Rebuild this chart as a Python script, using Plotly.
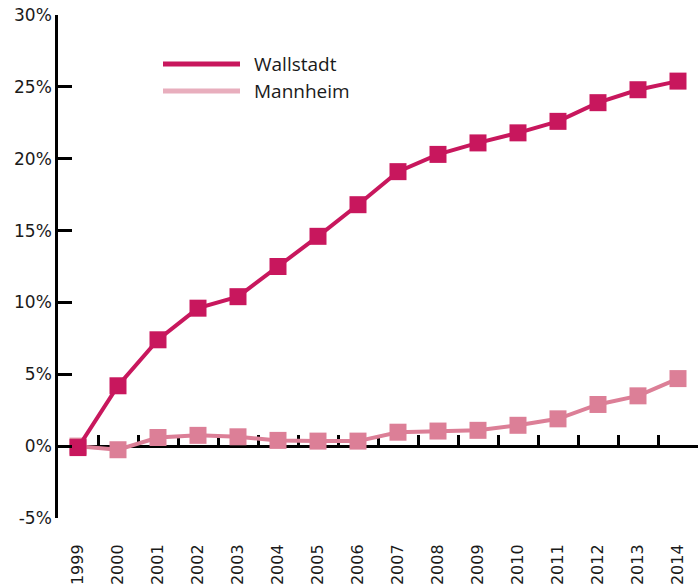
import plotly.graph_objects as go

years = list(range(1999, 2015))
year_labels = [str(y) for y in years]
wallstadt = [-0.1, 4.2, 7.4, 9.6, 10.4, 12.5, 14.6, 16.8, 19.1, 20.3, 21.1, 21.8, 22.6, 23.9, 24.8, 25.4]
mannheim = [0.0, -0.25, 0.6, 0.75, 0.65, 0.4, 0.35, 0.35, 0.97, 1.05, 1.1, 1.45, 1.9, 2.9, 3.5, 4.7]
y_ticks = [-5, 0, 5, 10, 15, 20, 25, 30]
y_tick_labels = [f"{v}%" for v in y_ticks]
series_names = ["Wallstadt", "Mannheim"]

C_W = "#C8175D"
C_M = "#DC7F97"
C_M_LEG = "#E8AEBD"
FONT = "DejaVu Sans"
LEG_FONT = "Open Sans"

fig = go.Figure()
fig.add_trace(go.Scatter(x=years, y=mannheim, mode="lines+markers", name=series_names[1],
                         line=dict(color=C_M, width=4),
                         marker=dict(symbol="square", size=17, color=C_M),
                         showlegend=False))
fig.add_trace(go.Scatter(x=years, y=wallstadt, mode="lines+markers", name=series_names[0],
                         line=dict(color=C_W, width=4),
                         marker=dict(symbol="square", size=17, color=C_W),
                         showlegend=False))
# invisible trace to activate the zero-line axis
fig.add_trace(go.Scatter(x=[None], y=[None], xaxis="x2", showlegend=False, hoverinfo="skip"))

fig.update_layout(
    width=700, height=585,
    margin=dict(l=58, r=2, t=15, b=67),
    paper_bgcolor="white", plot_bgcolor="white",
    font=dict(family=FONT, size=16, color="#1a1a1a"),
    xaxis=dict(range=[1998.5, 2014.5], tickvals=years, ticktext=year_labels,
               tickangle=-90, showline=False, showgrid=False, zeroline=False,
               ticks="outside", ticklen=19, tickcolor="rgba(0,0,0,0)", automargin=False,
               tickfont=dict(size=16, family=FONT)),
    xaxis2=dict(range=[1998.5, 2014.5], overlaying="x", anchor="free", position=5/35,
                side="bottom", showline=True, linecolor="black", linewidth=2.5,
                tickvals=[y + 0.5 for y in years], ticks="inside", ticklen=10,
                tickwidth=2.5, tickcolor="black", showticklabels=False, automargin=False,
                showgrid=False, zeroline=False, layer="below traces"),
    yaxis=dict(range=[-5, 30], domain=[0, 1], tickvals=y_ticks, ticktext=y_tick_labels,
               showline=True, linecolor="black", linewidth=2.5, automargin=False,
               ticks="inside", ticklen=14, tickwidth=2.5, tickcolor="black",
               showgrid=False, zeroline=False, tickfont=dict(size=17, family=FONT)),
)

# legend drawn manually
leg = [(series_names[0], C_W, 64), (series_names[1], C_M_LEG, 91)]
for name, col, ypx in leg:
    yp = 1 - (ypx - 15) / 503
    fig.add_shape(type="line", xref="paper", yref="paper",
                  x0=(163 - 58) / 640, x1=(240 - 58) / 640, y0=yp, y1=yp,
                  line=dict(color=col, width=5))
    fig.add_annotation(xref="paper", yref="paper", x=(252 - 58) / 640, y=yp,
                       text=name, showarrow=False, xanchor="left", yanchor="middle",
                       font=dict(size=19, family=LEG_FONT, color="#1a1a1a"))

fig.write_html("out.html", config={"displayModeBar": False},
               post_script="document.body.style.margin='0';document.body.style.overflow='hidden';")
